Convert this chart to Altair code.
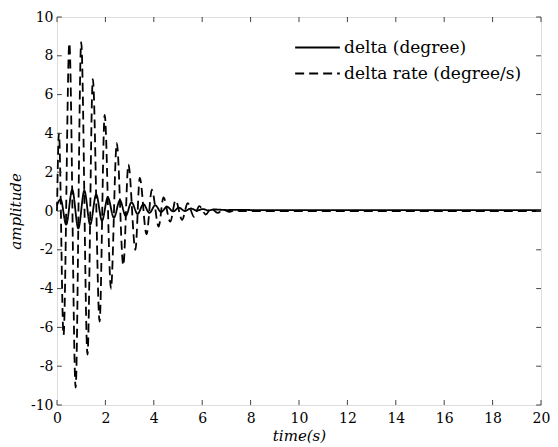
import altair as alt
import pandas as pd

# --- data ---
series_names = ["delta (degree)", "delta rate (degree/s)"]

delta_t = [0, 0.15, 0.38, 0.63, 0.88, 1.13, 1.37, 1.62, 1.86, 2.1, 2.35, 2.6, 2.84,
           3.08, 3.33, 3.57, 3.82, 4.06, 4.3, 4.55, 4.8, 5.04, 5.28, 5.53, 5.78,
           6.02, 6.27, 6.5, 7.0, 7.5, 8.0, 9.0, 10.0, 20.0]
delta_v = [0.3, 0.6, -0.7, 1.1, -0.9, 1.05, -0.7, 0.85, -0.5, 0.7, -0.35, 0.55, -0.25,
           0.45, -0.15, 0.35, -0.1, 0.3, -0.05, 0.22, -0.02, 0.17, 0.0, 0.13, 0.02,
           0.1, 0.03, 0.08, 0.05, 0.06, 0.05, 0.04, 0.04, 0.04]

rate_t = [0, 0.08, 0.27, 0.51, 0.77, 1.0, 1.26, 1.48, 1.76, 1.97, 2.23, 2.47, 2.74,
          2.95, 3.24, 3.42, 3.7, 3.92, 4.2, 4.4, 4.68, 4.9, 5.17, 5.4, 5.66, 5.88,
          6.15, 6.37, 6.64, 6.86, 7.13, 7.35, 7.6, 8.0, 9.0, 10.0, 20.0]
rate_v = [0, 4.0, -6.4, 8.65, -9.1, 8.7, -7.4, 6.8, -5.7, 4.95, -4.0, 3.5, -2.8,
          2.4, -2.0, 1.7, -1.2, 1.1, -0.8, 0.7, -0.55, 0.55, -0.45, 0.4, -0.3, 0.25,
          -0.18, 0.14, -0.1, 0.08, -0.05, 0.05, 0.0, 0.0, 0.0, 0.0, 0.0]

x_ticks = [0, 2, 4, 6, 8, 10, 12, 14, 16, 18, 20]
y_ticks = [-10, -8, -6, -4, -2, 0, 2, 4, 6, 8, 10]

df = pd.concat([
    pd.DataFrame({"t": delta_t, "v": delta_v, "series": series_names[0]}),
    pd.DataFrame({"t": rate_t, "v": rate_v, "series": series_names[1]}),
])
xt = pd.DataFrame({"tick": x_ticks})
yt = pd.DataFrame({"tick": y_ticks})

FONT = "DejaVu Serif"
FRAME = "#444444"

xscale = alt.Scale(domain=[0, 20], nice=False, zero=False)
yscale = alt.Scale(domain=[-10, 10], nice=False, zero=False)

xaxis = alt.Axis(values=x_ticks, ticks=False, domain=False, grid=False,
                 labelFont=FONT, labelFontSize=14, labelColor="black",
                 labelPadding=6, labelExpr="'' + datum.value", labelOverlap=False,
                 labelFlush=False,
                 title="time(s)", titleFont=FONT, titleFontStyle="italic",
                 titleFontWeight="normal", titleFontSize=15, titlePadding=3,
                 titleColor="black")
yaxis = alt.Axis(values=y_ticks, ticks=False, domain=False, grid=False,
                 labelFont=FONT, labelFontSize=14, labelColor="black",
                 labelPadding=4, labelExpr="'' + datum.value", labelOverlap=False,
                 labelFlush=False,
                 title="amplitude", titleFont=FONT, titleFontStyle="italic",
                 titleFontWeight="normal", titleFontSize=15, titlePadding=7,
                 titleColor="black")

lines = alt.Chart(df).mark_line(interpolate="monotone", color="black", strokeWidth=1.8).encode(
    x=alt.X("t:Q", scale=xscale, axis=xaxis),
    y=alt.Y("v:Q", scale=yscale, axis=yaxis),
    strokeDash=alt.StrokeDash(
        "series:N",
        scale=alt.Scale(domain=series_names, range=[[1, 0], [9, 5]]),
        legend=alt.Legend(
            title=None, orient="none", legendX=248, legendY=18,
            symbolType="M-2,0H2", symbolSize=500, symbolStrokeWidth=2,
            symbolStrokeColor="black", labelFont=FONT, labelFontSize=17,
            labelColor="black", labelOffset=14, rowPadding=5, labelLimit=400,
        ),
    ),
    detail="series:N",
)

tl = 0.26
tx = 0.2
bottom_ticks = alt.Chart(xt).mark_rule(color=FRAME, strokeWidth=1).encode(
    x=alt.X("tick:Q", scale=xscale, axis=xaxis),
    y=alt.datum(-10, scale=yscale, axis=yaxis), y2=alt.datum(-10 + tl))
top_ticks = alt.Chart(xt).mark_rule(color=FRAME, strokeWidth=1).encode(
    x=alt.X("tick:Q", scale=xscale, axis=xaxis),
    y=alt.datum(10, scale=yscale, axis=yaxis), y2=alt.datum(10 - tl))
left_ticks = alt.Chart(yt).mark_rule(color=FRAME, strokeWidth=1).encode(
    y=alt.Y("tick:Q", scale=yscale, axis=yaxis),
    x=alt.datum(0, scale=xscale, axis=xaxis), x2=alt.datum(tx))
right_ticks = alt.Chart(yt).mark_rule(color=FRAME, strokeWidth=1).encode(
    y=alt.Y("tick:Q", scale=yscale, axis=yaxis),
    x=alt.datum(20, scale=xscale, axis=xaxis), x2=alt.datum(20 - tx))

chart = alt.layer(lines, bottom_ticks, top_ticks, left_ticks, right_ticks).properties(
    width=484, height=388,
    autosize=alt.AutoSizeParams(type="none"),
    padding={"left": 49, "top": 9, "right": 9, "bottom": 42},
).configure_view(stroke=FRAME, strokeWidth=1.2).configure_axis(
    labelOverlap=False
).configure(background="white")

chart.save("out.html", embed_options={"renderer": "svg", "actions": False})
